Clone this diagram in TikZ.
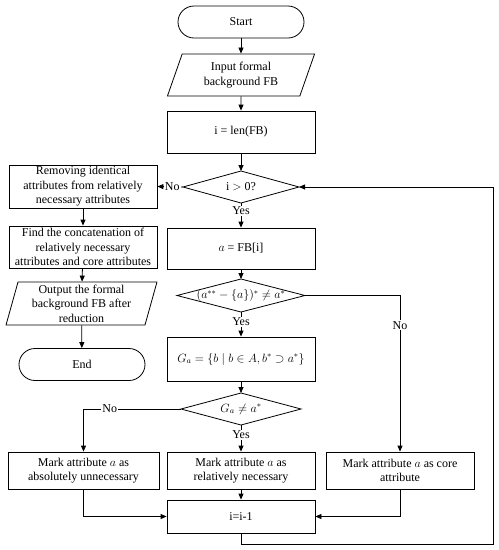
\documentclass[tikz,border=0pt]{standalone}
\usepackage{fontspec}
\setmainfont{Liberation Serif}
\usetikzlibrary{arrows.meta,shapes.geometric}
\begin{document}
\begin{tikzpicture}[x=1pt,y=-1pt,
  every node/.style={font=\fontsize{12}{14.5}\selectfont},
  box/.style={draw, line width=0.8pt, rectangle, minimum width=148pt, align=center, inner sep=0pt},
  term/.style={draw, line width=0.8pt, rectangle, rounded corners=16pt, minimum width=126pt, minimum height=32pt, inner sep=0pt},
  para/.style={draw, line width=0.8pt, trapezium, trapezium stretches=true, align=center, inner sep=0pt},
  ln/.style={line width=0.8pt},
  arr/.style={line width=0.8pt, -{Triangle[length=6pt,width=5pt]}},
  lab/.style={fill=white, inner sep=1pt}
]
\useasboundingbox (0,0) rectangle (499,550);

% main column
\node[term] (start) at (241,22) {Start};
\node[para, trapezium left angle=70, trapezium right angle=110, minimum width=148pt, minimum height=42pt] (in) at (241,75) {Input formal\\background FB};
\node[box, minimum height=42pt] (ilen) at (241,132) {i = len(FB)};

\node (d1) at (241,187) {i $>$ 0?};
\coordinate (d1w) at (183,187); \coordinate (d1e) at (299,187);
\coordinate (d1n) at (241,171); \coordinate (d1s) at (241,203);
\draw[ln] (d1w) -- (d1n) -- (d1e) -- (d1s) -- cycle;

\node[box, minimum height=41pt] (afb) at (241,248.5) {$a$ = FB[i]};

\node (d2) at (241,295.5) {$(a^{**}-\{a\})^{*}\neq a^{*}$};
\coordinate (d2w) at (177,295.5); \coordinate (d2e) at (305,295.5);
\coordinate (d2n) at (241,279); \coordinate (d2s) at (241,312);
\draw[ln] (d2w) -- (d2n) -- (d2e) -- (d2s) -- cycle;

\node[box, minimum height=44pt] (ga) at (241,359) {$G_a=\{b\mid b\in A, b^{*}\supset a^{*}\}$};

\node (d3) at (241,409) {$G_a\neq a^{*}$};
\coordinate (d3w) at (181,409); \coordinate (d3e) at (301,409);
\coordinate (d3n) at (241,393); \coordinate (d3s) at (241,425);
\draw[ln] (d3w) -- (d3n) -- (d3e) -- (d3s) -- cycle;

% bottom row
\node[box, minimum width=151pt, minimum height=37pt] (mabs) at (83.5,470.5) {Mark attribute $a$ as\\absolutely unnecessary};
\node[box, minimum height=37pt] (mrel) at (241,470.5) {Mark attribute $a$ as\\relatively necessary};
\node[box, minimum height=37pt] (mcore) at (400,470.5) {Mark attribute $a$ as core\\attribute};
\node[box, minimum height=33pt] (dec) at (241,516.5) {i=i-1};

% left column
\node[box, minimum height=43pt] (rem) at (83,186.5) {Removing identical\\attributes from relatively\\necessary attributes};
\node[box, minimum height=42pt] (find) at (83,247) {Find the concatenation of\\relatively necessary\\attributes and core attributes};
\node[para, trapezium left angle=76, trapezium right angle=104, minimum width=151pt, minimum height=43pt] (out) at (81.5,303.5) {Output the formal\\background FB after\\reduction};
\node[term] (end) at (82,364.5) {End};

% connectors
\draw[arr] (start) -- (in);
\draw[arr] (in) -- (ilen);
\draw[arr] (ilen) -- (d1n);
\draw[arr] (d1s) -- node[lab, pos=0.33] {Yes} (afb);
\draw[arr] (d1w) -- node[lab, pos=0.42] {No} (rem.east);
\draw[arr] (afb) -- (d2n);
\draw[arr] (d2s) -- node[lab, pos=0.4] {Yes} (ga);
\coordinate (c2) at (400,295.5);
\draw[arr] (d2e) -- (c2) -- node[lab, pos=0.19] {No} (mcore.north);
\draw[arr] (ga) -- (d3n);
\draw[arr] (d3s) -- node[lab, pos=0.37] {Yes} (mrel);
\coordinate (c3) at (83.5,409);
\draw[arr] (d3w) -- node[lab, pos=0.73] {No} (c3) -- (mabs.north);
\draw[arr] (rem) -- (find);
\draw[arr] (find) -- (out);
\draw[arr] (out) -- (end);
\draw[arr] (mabs.south) |- (dec.west);
\draw[arr] (mcore.south) |- (dec.east);
\draw[arr] (mrel) -- (dec);
\coordinate (l1) at (241,544);
\coordinate (l2) at (493,544);
\coordinate (l3) at (493,187);
\draw[arr] (dec.south) -- (l1) -- (l2) -- (l3) -- (d1e);
\end{tikzpicture}
\end{document}
